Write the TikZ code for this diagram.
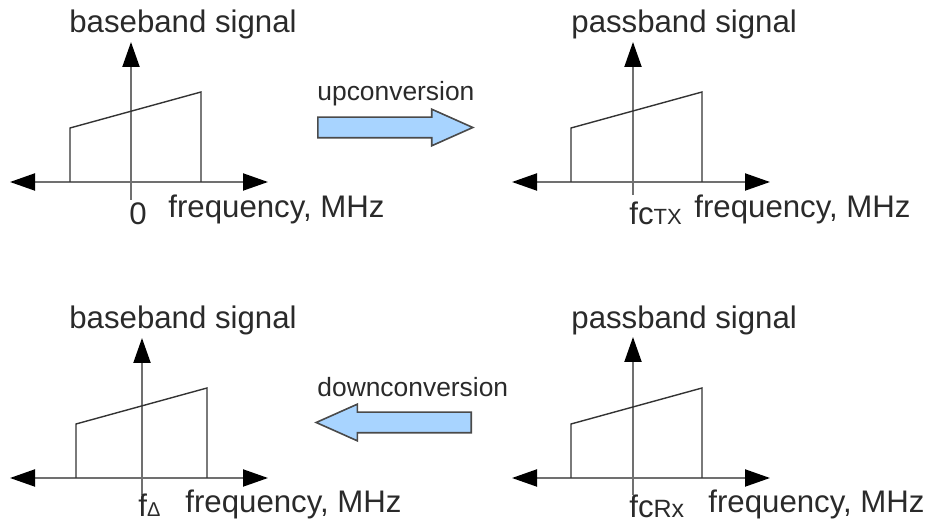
\documentclass[tikz,border=0pt]{standalone}
\usepackage{fontspec}
\setmainfont{Liberation Sans}
\usetikzlibrary{arrows.meta,shapes.arrows}
\definecolor{axisgray}{HTML}{707070}
\definecolor{ink}{HTML}{2A2A2A}
\definecolor{convblue}{HTML}{A8D4FF}
\definecolor{convedge}{HTML}{4A4A4A}

\begin{document}
\begin{tikzpicture}[x=0.5pt,y=-0.5pt,>={Triangle[length=12.5pt,width=8.5pt,color=black]},
  axis/.style={draw=axisgray,line width=1pt},
  band/.style={draw=black!80,line width=0.7pt},
  lbl/.style={text=ink,inner sep=0pt,anchor=base west,text depth=0pt,font=\fontsize{15.6}{18}\selectfont},
  small/.style={lbl,font=\fontsize{13.2}{15}\selectfont},
  conv/.style={single arrow,draw=convedge,fill=convblue,line width=0.8pt,inner sep=4.75pt,
    minimum height=77.5pt,single arrow head extend=4pt,single arrow tip angle=48,anchor=tail}]
\useasboundingbox (0,0) rectangle (933,523);
% four spectrum panels
\foreach \n/\hx/\hy/\vx/\vb/\vt/\sx/\title in {
  tl/10/182/131/200/42/70/baseband signal,
  tr/512/182/633/195/42/571/passband signal,
  bl/10/478/142/495/338/76/baseband signal,
  br/512/478/633/495/337/571/passband signal}{
  \draw[axis,<->] (\hx,\hy) -- (\hx+258,\hy);
  \draw[axis,->] (\vx,\vb) -- (\vx,\vt);
  \draw[band] (\sx,\hy) -- (\sx,\hy-54) -- (\sx+131,\hy-90) -- (\sx+131,\hy);
  \node[lbl] (title-\n) at (\hx+59,\hy-149) {\title};
}
% frequency marks
\node[lbl,anchor=base] (mark-tl) at (138,225) {0};
\node[lbl] (mark-tr) at (629,225) {fc{\fontsize{11}{12}\selectfont TX}};
\node[lbl] (mark-bl) at (138,517) {f{\fontsize{10}{12}\selectfont Δ}};
\node[lbl] (mark-br) at (629,518) {fc{\fontsize{12.5}{14}\selectfont Rx}};
\node[lbl] (freq-tl) at (168,218) {frequency, MHz};
\node[lbl] (freq-tr) at (694,218) {frequency, MHz};
\node[lbl] (freq-bl) at (185,513) {frequency, MHz};
\node[lbl] (freq-br) at (708,513) {frequency, MHz};
% conversions
\node[conv] (up) at (317,127.5) {};
\node[small] (up-lbl) at (317,101) {upconversion};
\node[conv,shape border rotate=180] (down) at (472,422.5) {};
\node[small] (down-lbl) at (317,397) {downconversion};
\end{tikzpicture}
\end{document}
